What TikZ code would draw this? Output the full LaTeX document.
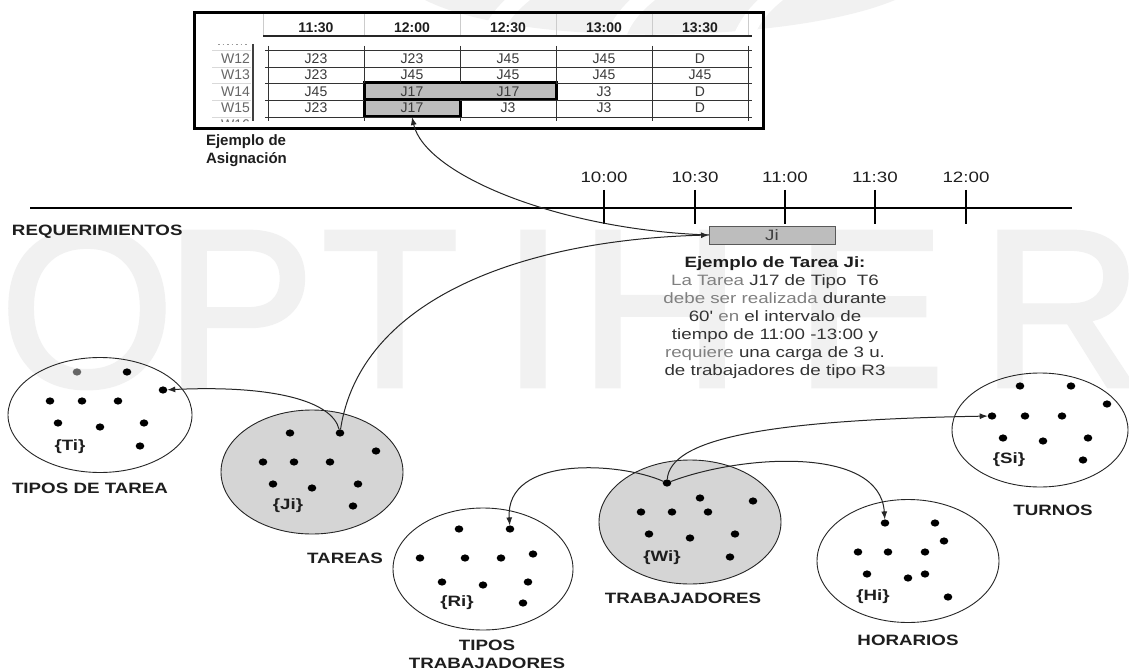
\documentclass[tikz,border=0pt]{standalone}
\usepackage{fontspec}
\setmainfont{Liberation Sans}
\newfontfamily\widesans{Liberation Sans}[FakeStretch=1.25]
\newfontfamily\wmfont{Liberation Sans}[FakeBold=2]
\usetikzlibrary{arrows.meta,shapes.geometric}
\definecolor{inkdark}{HTML}{1E1E1E}
\definecolor{celltxt}{HTML}{3A3A3A}
\definecolor{desclight}{HTML}{808080}
\definecolor{descdark}{HTML}{333333}
\definecolor{hlgray}{HTML}{BDBDBD}
\definecolor{setgray}{HTML}{D5D5D5}
\definecolor{wmgray}{HTML}{F1F1F1}

\begin{document}
\begin{tikzpicture}[x=1pt,y=-1pt,
  every node/.style={inner sep=0pt,outer sep=0pt},
  wm/.style={font=\wmfont\fontsize{224}{224}\selectfont,text=wmgray,anchor=base},
  hdr/.style={font=\bfseries\fontsize{14}{16}\selectfont,text=inkdark},
  cell/.style={font=\fontsize{14}{16}\selectfont,text=celltxt},
  wlbl/.style={font=\fontsize{14}{16}\selectfont,text=black!60,anchor=east},
  hlbox/.style={draw=black,line width=3pt,fill=hlgray},
  grid/.style={draw=black!80,line width=0.8pt},
  setlbl/.style={font=\widesans\bfseries\fontsize{15}{18}\selectfont,text=inkdark},
  tlbl/.style={font=\widesans\fontsize{15}{18}\selectfont,text=inkdark},
  desc/.style={font=\widesans\fontsize{15}{18}\selectfont,text=descdark,align=center},
  setell/.style={ellipse,draw=black!85,line width=0.9pt},
  setdot/.style={ellipse,fill=black,minimum width=8.6pt,minimum height=7.2pt},
  arr/.style={draw=black!85,line width=1pt,-{Latex[length=8pt,width=6pt]}},
  thick line/.style={line width=2.6pt,draw=black}
]
\useasboundingbox (0,0) rectangle (1129,671);
\fill[white] (0,0) rectangle (1129,671);

% ---- faint background lettering and logo band ----
\fill[wmgray] (425,0) .. controls (520,48) and (790,44) .. (895,0) -- cycle;
\fill[white] (505,0) -- (530,0) .. controls (515,12) and (505,24) .. (500,40) -- (478,40) .. controls (486,22) and (494,10) .. cycle;
\fill[white] (630,0) -- (655,0) .. controls (640,12) and (630,24) .. (625,40) -- (603,40) .. controls (611,22) and (619,10) .. cycle;
\fill[white] (758,0) -- (783,0) .. controls (768,12) and (758,24) .. (753,40) -- (731,40) .. controls (739,22) and (747,10) .. cycle;
\node[wm] (wmO) at (87,386) {O};
\node[wm] (wmP) at (240,386) {P};
\node[wm] (wmT) at (390,386) {T};
\node[wm] (wmI) at (533,386) {I};
\node[wm] (wmH) at (660,386) {H};
\node[wm] (wmE) at (870,386) {E};
\node[wm] (wmR) at (1062,386) {R};

% ---- assignment table ----
\draw[line width=3pt] (194,13) rectangle (763,129);
\foreach \x in {263,364,460,556,652,748}
  \draw[black!20,line width=0.8pt] (\x,14) -- (\x,36);
\draw[line width=2.2pt,black!85] (263,36) -- (752,36);
\foreach \t [count=\i] in {11:30,12:00,12:30,13:00,13:30}
  \node[hdr] (h\i) at ({220+96*\i},28) {\t};

\foreach \y in {50,67,83,100,117}
  \draw[black!15,line width=0.6pt] (212,\y) -- (251,\y);
\draw[black!40,line width=1pt,dash pattern=on 1.5pt off 3pt] (218,44.5) -- (249,44.5);
\draw[line width=2.4pt,black!75] (253,44) -- (253,121);
\foreach \w/\y in {W12/58.5,W13/75,W14/91.5,W15/108}
  \node[wlbl] (\w) at (250,\y) {\w};
\begin{scope}
  \clip (205,117.5) rectangle (251,122);
  \node[wlbl] (W16) at (250,125) {W16};
\end{scope}

\node[hlbox,minimum width=192pt,minimum height=17pt] (hlw14) at (460,91.5) {};
\node[hlbox,minimum width=96pt,minimum height=17pt] (hlw15) at (412,108.5) {};

\foreach \y in {50,67,117}
  \draw[grid] (265,\y) -- (752,\y);
\draw[grid] (265,83) -- (364,83);  \draw[grid] (556,83) -- (752,83);
\draw[grid] (265,100) -- (364,100); \draw[grid] (556,100) -- (752,100);
\draw[grid] (460,100) -- (556,100);
\foreach \x in {268,652,748}
  \draw[grid] (\x,46) -- (\x,121);
\draw[grid] (364,46) -- (364,83); \draw[grid] (364,117) -- (364,121);
\draw[grid] (460,46) -- (460,83); \draw[grid] (460,117) -- (460,121);
\draw[grid] (556,46) -- (556,83); \draw[grid] (556,100) -- (556,121);

\foreach \r/\y/\a/\b/\c/\d/\e in {1/58.5/J23/J23/J45/J45/D,
                                 2/75/J23/J45/J45/J45/J45,
                                 3/91.5/J45/J17/J17/J3/D,
                                 4/108/J23/J17/J3/J3/D}{
  \node[cell] (c\r a) at (316,\y) {\a};
  \node[cell] (c\r b) at (412,\y) {\b};
  \node[cell] (c\r c) at (508,\y) {\c};
  \node[cell] (c\r d) at (604,\y) {\d};
  \node[cell] (c\r e) at (700,\y) {\e};
}

\node[anchor=west,align=left,font=\bfseries\fontsize{15}{18}\selectfont,text=inkdark]
  (asglbl) at (206,151) {Ejemplo de\\Asignación};

% ---- time line ----
\coordinate (tl0) at (30,208);
\coordinate (tl1) at (1072,208);
\draw[thick line] (tl0) -- (tl1);
\foreach \x/\t [count=\i] in {604/10:00,695/10:30,785/11:00,875/11:30,966/12:00}{
  \draw[thick line] (\x,190) -- (\x,224);
  \node[tlbl] (tk\i) at (\x,177) {\t};
}
\node[setlbl,anchor=west] (req) at (12,232) {REQUERIMIENTOS};

\node[draw=black!65,fill=hlgray,line width=1pt,minimum width=126pt,minimum height=18pt,
      font=\widesans\fontsize{15}{18}\selectfont,text=black!75] (jibox) at (772,235) {Ji};

\node[desc] (jdesc) at (775,318) {%
  \textbf{\color{inkdark}Ejemplo de Tarea Ji:}\\
  {\color{desclight}La Tarea} J17 de Tipo\ \ T6\\
  {\color{desclight}debe ser realizada} durante\\
  60' {\color{desclight}en} el intervalo de\\
  tiempo de 11:00 -13:00 y\\
  {\color{desclight}requiere} una carga de 3 u.\\
  de trabajadores de tipo R3};

% ---- sets ----
\node[setell,minimum width=184pt,minimum height=115pt] (Tset) at (100,415) {};
\node[setell,fill=setgray,minimum width=182pt,minimum height=124pt] (Jset) at (312,472) {};
\node[setell,minimum width=180pt,minimum height=122pt] (Rset) at (483,569) {};
\node[setell,fill=setgray,minimum width=182pt,minimum height=124pt] (Wset) at (690,522) {};
\node[setell,minimum width=182pt,minimum height=123pt] (Hset) at (908,561) {};
\node[setell,minimum width=176pt,minimum height=114pt] (Sset) at (1040,430) {};

\node[setdot,fill=black!60] (t1) at (77,372) {};
\foreach \x/\y [count=\i from 2] in {127/372,163/390,50/401,82/401,118/401,58/423,100/427,144/423,140/446}
  \node[setdot] (t\i) at (\x,\y) {};
\foreach \x/\y [count=\i] in {290/433,340/433,376/451,263/462,294/462,330/462,273/484,312/488,358/484,353/506}
  \node[setdot] (j\i) at (\x,\y) {};
\foreach \x/\y [count=\i] in {459/529,510/529,420/558,465/558,501/558,533/554,442/582,483/585,528/582,523/603}
  \node[setdot] (r\i) at (\x,\y) {};
\foreach \x/\y [count=\i] in {667/483,700/498,753/501,641/512,672/512,708/512,649/534,690/538,735/534,730/557}
  \node[setdot] (w\i) at (\x,\y) {};
\foreach \x/\y [count=\i] in {1020/386,1071/386,1107/404,992/416,1025/416,1062/416,1003/438,1043/441,1088/438,1083/460}
  \node[setdot] (s\i) at (\x,\y) {};
\foreach \x/\y [count=\i] in {885/523,935/523,944/541,858/552,888/552,925/552,867/574,908/578,925/574,948/597}
  \node[setdot] (hh\i) at (\x,\y) {};

\node[setlbl] (Tname) at (70,447) {\{Ti\}};
\node[setlbl] (Jname) at (288,506) {\{Ji\}};
\node[setlbl] (Rname) at (457,603) {\{Ri\}};
\node[setlbl] (Wname) at (662,558) {\{Wi\}};
\node[setlbl] (Sname) at (1009,460) {\{Si\}};
\node[setlbl] (Hname) at (873,597) {\{Hi\}};

\node[setlbl] (Tcap) at (90,488) {TIPOS DE TAREA};
\node[setlbl] (Jcap) at (345,558) {TAREAS};
\node[setlbl,align=center] (Rcap) at (487,654) {TIPOS\\TRABAJADORES};
\node[setlbl] (Wcap) at (683,598) {TRABAJADORES};
\node[setlbl] (Scap) at (1053,510) {TURNOS};
\node[setlbl] (Hcap) at (908,640) {HORARIOS};

% ---- connectors ----
\draw[arr] (j2) .. controls (332,400) and (270,385) .. (t3);
\draw[arr] (j2) .. controls (360,300) and (520,240) .. (jibox.west);
\draw[arr] (jibox.west) .. controls (560,230) and (425,175) .. (hlw15.south);
\draw[arr] (w1) .. controls (620,462) and (505,455) .. (r2);
\draw[arr] (w1) .. controls (740,455) and (880,445) .. (hh1);
\draw[arr] (w1) .. controls (670,440) and (760,420) .. (s4);
\end{tikzpicture}
\end{document}
